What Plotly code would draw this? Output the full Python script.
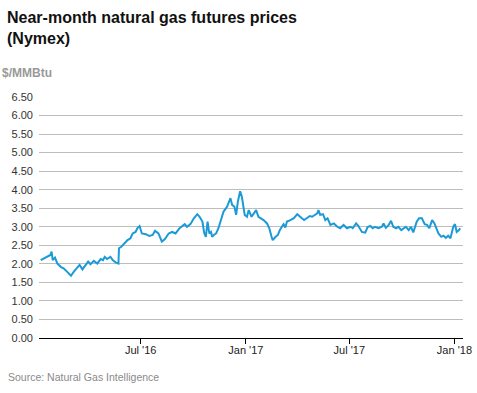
import plotly.graph_objects as go

dates = [
    "2016-01-08", "2016-01-12", "2016-01-19", "2016-01-25", "2016-01-27", "2016-01-29",
    "2016-02-02", "2016-02-06", "2016-02-12", "2016-02-17", "2016-02-23", "2016-03-01",
    "2016-03-06", "2016-03-12", "2016-03-16", "2016-03-21", "2016-03-26", "2016-03-31",
    "2016-04-04", "2016-04-10", "2016-04-16", "2016-04-22", "2016-04-26", "2016-04-29",
    "2016-05-03", "2016-05-09", "2016-05-13", "2016-05-18", "2016-05-23", "2016-05-24",
    "2016-05-28", "2016-06-02", "2016-06-08", "2016-06-13", "2016-06-17", "2016-06-22",
    "2016-06-25", "2016-06-29", "2016-07-03", "2016-07-10", "2016-07-16", "2016-07-22",
    "2016-07-26", "2016-08-01", "2016-08-07", "2016-08-12", "2016-08-19", "2016-08-25",
    "2016-08-31", "2016-09-07", "2016-09-11", "2016-09-16", "2016-09-20", "2016-09-26",
    "2016-10-02", "2016-10-08", "2016-10-12", "2016-10-17", "2016-10-20", "2016-10-23",
    "2016-10-26", "2016-10-29", "2016-11-01", "2016-11-03", "2016-11-06", "2016-11-10",
    "2016-11-14", "2016-11-19", "2016-11-23", "2016-11-29", "2016-12-02", "2016-12-05",
    "2016-12-08", "2016-12-12", "2016-12-15", "2016-12-18", "2016-12-22", "2016-12-25",
    "2016-12-30", "2017-01-03", "2017-01-06", "2017-01-11", "2017-01-15", "2017-01-19",
    "2017-01-23", "2017-01-28", "2017-02-01", "2017-02-07", "2017-02-11", "2017-02-15",
    "2017-02-17", "2017-02-22", "2017-02-26", "2017-03-02", "2017-03-08", "2017-03-11",
    "2017-03-14", "2017-03-20", "2017-03-26", "2017-04-01", "2017-04-05", "2017-04-09",
    "2017-04-13", "2017-04-18", "2017-04-23", "2017-04-27", "2017-05-01", "2017-05-06",
    "2017-05-08", "2017-05-11", "2017-05-16", "2017-05-20", "2017-05-24", "2017-05-29",
    "2017-06-04", "2017-06-10", "2017-06-15", "2017-06-21", "2017-06-27", "2017-07-03",
    "2017-07-07", "2017-07-13", "2017-07-17", "2017-07-23", "2017-07-29", "2017-08-02",
    "2017-08-07", "2017-08-11", "2017-08-15", "2017-08-21", "2017-08-27", "2017-08-30",
    "2017-09-03", "2017-09-08", "2017-09-12", "2017-09-16", "2017-09-21", "2017-09-25",
    "2017-09-30", "2017-10-04", "2017-10-08", "2017-10-13", "2017-10-17", "2017-10-21",
    "2017-10-24", "2017-10-27", "2017-10-31", "2017-11-05", "2017-11-10", "2017-11-14",
    "2017-11-18", "2017-11-23", "2017-11-27", "2017-12-01", "2017-12-04", "2017-12-09",
    "2017-12-13", "2017-12-17", "2017-12-21", "2017-12-25", "2017-12-28", "2017-12-30",
    "2018-01-02", "2018-01-05", "2018-01-09", "2018-01-11",
]

prices = [
    2.10, 2.13, 2.19, 2.24, 2.33, 2.10,
    2.17, 2.01, 1.92, 1.88, 1.79, 1.68,
    1.79, 1.89, 1.97, 1.85, 1.95, 2.06,
    1.99, 2.08, 2.01, 2.13, 2.10, 2.19,
    2.13, 2.19, 2.10, 2.04, 2.01, 2.42,
    2.46, 2.55, 2.64, 2.69, 2.82, 2.86,
    2.96, 3.02, 2.82, 2.80, 2.75, 2.78,
    2.89, 2.82, 2.60, 2.66, 2.82, 2.86,
    2.82, 2.96, 3.00, 3.07, 3.00, 3.07,
    3.23, 3.34, 3.27, 3.14, 2.84, 2.73,
    3.14, 2.82, 2.86, 2.73, 2.78, 2.82,
    2.96, 3.23, 3.41, 3.54, 3.68, 3.77,
    3.59, 3.54, 3.32, 3.68, 3.96, 3.81,
    3.32, 3.27, 3.45, 3.27, 3.36, 3.45,
    3.27, 3.23, 3.18, 3.09, 2.96, 2.73,
    2.64, 2.73, 2.78, 2.93, 3.07, 2.98,
    3.14, 3.18, 3.23, 3.34, 3.27, 3.23,
    3.18, 3.23, 3.29, 3.27, 3.32, 3.36,
    3.45, 3.32, 3.34, 3.18, 3.23, 3.05,
    3.09, 3.00, 2.96, 3.05, 2.96, 3.00,
    2.96, 3.09, 3.02, 2.86, 2.84, 2.99,
    3.02, 2.96, 3.00, 2.96, 3.00, 3.09,
    2.97, 3.05, 3.16, 3.00, 2.96, 3.00,
    2.91, 2.96, 3.00, 2.91, 3.00, 2.85,
    3.00, 3.14, 3.23, 3.23, 3.07, 3.05,
    2.96, 3.18, 3.09, 2.96, 2.82, 2.73,
    2.76, 2.70, 2.76, 2.69, 2.86, 3.00,
    3.07, 2.86, 2.91, 2.96,
]

tick_dates = ["2016-07-01", "2017-01-01", "2017-07-01", "2018-01-01"]
tick_labels = ["Jul '16", "Jan '17", "Jul '17", "Jan '18"]
y_ticks = [i * 0.5 for i in range(14)]

FONT = "Arial, Liberation Sans, sans-serif"

fig = go.Figure()
fig.add_trace(go.Scatter(
    x=dates, y=prices, mode="lines",
    line=dict(color="#1b9ad6", width=2),
    hoverinfo="x+y", showlegend=False,
))

fig.update_layout(
    width=477, height=393,
    margin=dict(l=39, r=14, t=97, b=55),
    paper_bgcolor="white", plot_bgcolor="white",
    font=dict(family=FONT, size=11, color="#333333"),
    xaxis=dict(
        type="date", automargin=False,
        range=["2016-01-05", "2018-01-16"],
        tickvals=tick_dates, ticktext=tick_labels,
        ticks="outside", ticklen=5, tickcolor="#000000", tickwidth=1,
        ticklabelstandoff=-3,
        showline=True, linecolor="#000000", linewidth=1,
        showgrid=False, zeroline=False,
        tickfont=dict(size=11, color="#222222"),
    ),
    yaxis=dict(
        range=[0, 6.5], automargin=False,
        tickvals=y_ticks, ticktext=[f"{v:.2f}" for v in y_ticks],
        showgrid=True, gridcolor="#bdbdbd", gridwidth=1,
        zeroline=False, showline=False, ticks="",
        ticklabelstandoff=5,
        tickfont=dict(size=11, color="#333333"),
    ),
    annotations=[
        dict(text="<b>Near-month natural gas futures prices<br>(Nymex)</b>",
             xref="paper", yref="paper", x=-0.08, y=1.375,
             xanchor="left", yanchor="top", align="left", showarrow=False,
             font=dict(family=FONT, size=16, color="#111111")),
        dict(text="<b>$/MMBtu</b>",
             xref="paper", yref="paper", x=-0.093, y=1.10,
             xanchor="left", yanchor="middle", align="left", showarrow=False,
             font=dict(family=FONT, size=12, color="#999999")),
        dict(text="Source: Natural Gas Intelligence",
             xref="paper", yref="paper", x=-0.079, y=-0.162,
             xanchor="left", yanchor="middle", align="left", showarrow=False,
             font=dict(family=FONT, size=10.5, color="#8a8a8a")),
    ],
)

fig.write_html(
    "out.html",
    config={"displayModeBar": False},
    post_script="document.body.style.margin='0';document.body.style.padding='0';",
)
